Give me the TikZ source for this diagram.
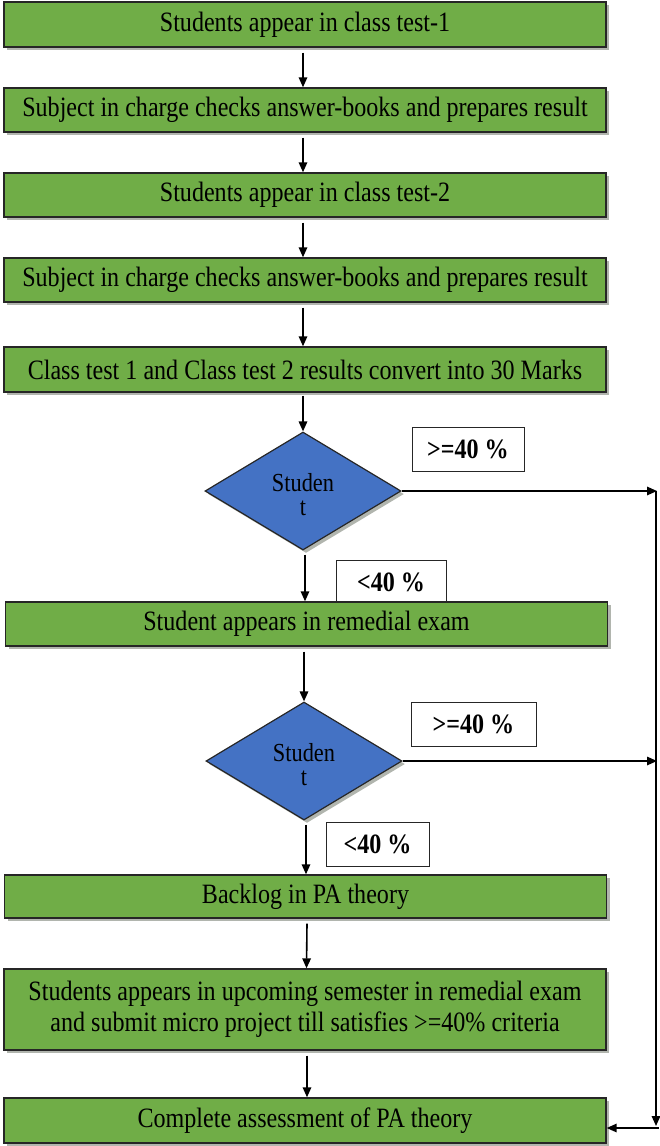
\documentclass[tikz,border=0pt]{standalone}
\usepackage{fontspec}
\setmainfont{Liberation Serif}[FakeStretch=0.86]
\usetikzlibrary{shapes.geometric,arrows.meta,shadows}
\definecolor{boxgreen}{HTML}{70AD47}
\definecolor{dblue}{HTML}{4472C4}
\definecolor{shadowgray}{HTML}{9EA39A}
\newcommand{\studentlabel}{\smash{\begin{tabular}[t]{@{}c@{}}Studen\\t\end{tabular}}}
\begin{document}
\begin{tikzpicture}[x=1pt,y=-1pt,
  stepbox/.style={draw=black!85, line width=1.4pt, fill=boxgreen, minimum width=602pt, inner sep=0pt,
    font=\fontsize{28}{31}\selectfont, align=center,
    drop shadow={shadow xshift=3pt, shadow yshift=-3pt, fill=shadowgray, opacity=0.8}},
  decide/.style={draw=black!85, line width=1.2pt, fill=dblue, shape=diamond, inner sep=0pt,
    minimum width=196pt, minimum height=118pt, aspect=1.66,
    font=\fontsize{26}{24}\selectfont,
    drop shadow={shadow xshift=3pt, shadow yshift=-3pt, fill=shadowgray, opacity=0.8}},
  tag/.style={draw=black!85, line width=0.8pt, fill=white, inner sep=0pt,
    minimum height=44pt, font=\fontsize{28}{30}\selectfont\bfseries},
  arr/.style={line width=1.6pt, -{Triangle[length=10pt,width=8.5pt]}}]
\useasboundingbox (0,0) rectangle (659,1146);

\node[stepbox, minimum height=45pt] (b1) at (305,24.5) {Students appear in class test-1};
\node[stepbox, minimum height=44pt] (b2) at (305,110) {Subject in charge checks answer-books and prepares result};
\node[stepbox, minimum height=44pt] (b3) at (305,195) {Students appear in class test-2};
\node[stepbox, minimum height=44pt] (b4) at (305,280) {Subject in charge checks answer-books and prepares result};
\node[stepbox, minimum height=45pt] (b5) at (305,369.5) {Class test 1 and Class test 2 results convert into 30 Marks};

\node[decide] (d1) at (303,491) {\studentlabel};
\node[tag, minimum width=112pt] (g1) at (468,449.5) {>=40 \%};
\node[tag, minimum width=110pt] (l1) at (391,582) {<40 \%};

\node[stepbox, minimum height=44pt] (b6) at (306.5,624) {Student appears in remedial exam};

\node[decide] (d2) at (304,761) {\studentlabel};
\node[tag, minimum width=125pt] (g2) at (473.5,724.5) {>=40 \%};
\node[tag, minimum width=103pt] (l2) at (377.5,844) {<40 \%};

\node[stepbox, minimum height=43pt] (b7) at (305.5,896.5) {Backlog in PA theory};
\node[stepbox, minimum height=81pt] (b8) at (305,1009.5) {Students appears in upcoming semester in remedial exam\\and submit micro project till satisfies >=40\% criteria};
\node[stepbox, minimum height=45pt] (b9) at (305,1120.5) {Complete assessment of PA theory};

\coordinate (r1) at (657,491);
\coordinate (r2) at (657,761);
\coordinate (r3) at (656,1126);
\coordinate (r4) at (659,1128);
\coordinate (rt) at (656,491);

\draw[arr] ([xshift=-2pt,yshift=-5pt]b1.south) -- ([xshift=-2pt]b2.north);
\draw[arr] ([xshift=-2pt,yshift=-5pt]b2.south) -- ([xshift=-2pt]b3.north);
\draw[arr] ([xshift=-2pt,yshift=-5pt]b3.south) -- ([xshift=-2pt]b4.north);
\draw[arr] ([xshift=-2pt,yshift=-5pt]b4.south) -- ([xshift=-2pt]b5.north);
\draw[arr] ([yshift=-3pt]d1.north |- b5.south) -- (d1.north);
\draw[arr] ([xshift=2pt,yshift=-4pt]d1.south) -- ([xshift=2pt]d1.south |- b6.north);
\draw[arr] ([yshift=-5pt]d2.north |- b6.south) -- (d2.north);
\draw[arr] ([xshift=2pt,yshift=-4pt]d2.south) -- ([xshift=2pt]d2.south |- b7.north);
\draw[arr] ([xshift=1.5pt,yshift=-5pt]b7.south) -- ([xshift=1.5pt]b8.north);
\draw[arr] ([xshift=2pt,yshift=-5pt]b8.south) -- ([xshift=2pt]b9.north);

\draw[arr] (d1.east) -- (r1);
\draw[arr] (d2.east) -- (r2);
\draw[arr] (rt) -- (r3);
\draw[arr] (r4) -- (r4 -| b9.east);
\end{tikzpicture}
\end{document}
